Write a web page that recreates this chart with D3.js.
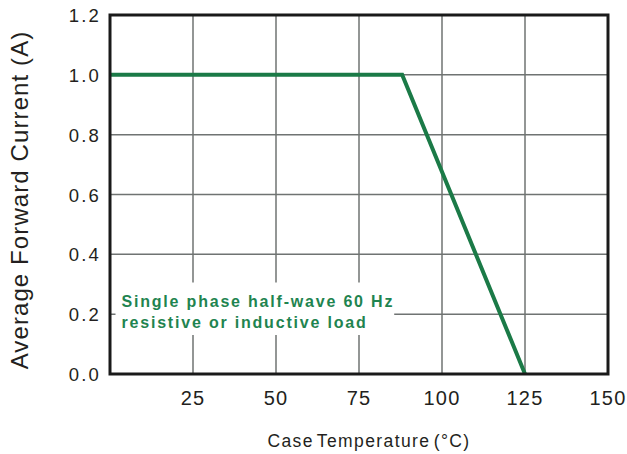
<!DOCTYPE html>
<html>
<head>
<meta charset="utf-8">
<script src="https://cdn.jsdelivr.net/npm/d3@7"></script>
<style>
  body { margin: 0; background: #fff; }
  text { font-family: "Liberation Sans", Arial, sans-serif; }
</style>
</head>
<body>
<div id="chart"></div>
<script>
// Derating curve data
const tempPoints = [0, 88, 125];
const currentPoints = [1.0, 1.0, 0.0];
const xTicks = [25, 50, 75, 100, 125, 150];
const yTicks = [0.0, 0.2, 0.4, 0.6, 0.8, 1.0, 1.2];
const noteLines = ['Single phase half-wave 60 Hz', 'resistive or inductive load'];

const width = 627, height = 454;
const margin = { top: 15, right: 19, bottom: 80, left: 110 };
const innerW = width - margin.left - margin.right;
const innerH = height - margin.top - margin.bottom;

const svg = d3.select('#chart').append('svg')
    .attr('width', width)
    .attr('height', height);

const x = d3.scaleLinear().domain([0, 150]).range([margin.left, margin.left + innerW]);
const y = d3.scaleLinear().domain([0, 1.2]).range([margin.top + innerH, margin.top]);

const grid = svg.append('g');

// vertical grid lines
grid.selectAll('.vgrid')
    .data(xTicks.filter(d => d > 0 && d < 150))
    .enter().append('line')
    .attr('x1', d => x(d)).attr('x2', d => x(d))
    .attr('y1', y(0)).attr('y2', y(1.2))
    .attr('stroke', '#6f7372').attr('stroke-width', 1.5);

// horizontal grid lines
grid.selectAll('.hgrid')
    .data(yTicks.filter(d => d > 0 && d < 1.2))
    .enter().append('line')
    .attr('x1', x(0)).attr('x2', x(150))
    .attr('y1', d => y(d)).attr('y2', d => y(d))
    .attr('stroke', '#6f7372').attr('stroke-width', 1.5);

// note box (white) behind the annotation, sized after the text
const noteBg = svg.append('rect').attr('fill', '#fff');
const noteG = svg.append('g');

// data line
const line = d3.line()
    .x((d, i) => x(tempPoints[i]))
    .y((d, i) => y(currentPoints[i]));

svg.append('path')
    .datum(tempPoints)
    .attr('d', line)
    .attr('fill', 'none')
    .attr('stroke', '#1b7a47')
    .attr('stroke-width', 4)
    .attr('stroke-linejoin', 'miter');

// border
svg.append('rect')
    .attr('x', x(0)).attr('y', y(1.2))
    .attr('width', innerW).attr('height', innerH)
    .attr('fill', 'none')
    .attr('stroke', '#1a1a1a')
    .attr('stroke-width', 3);

// tick labels
svg.selectAll('.xlab')
    .data(xTicks)
    .enter().append('text')
    .attr('x', d => x(d))
    .attr('y', y(0) + 31)
    .attr('text-anchor', 'middle')
    .attr('font-size', 20)
    .attr('letter-spacing', 1.2)
    .attr('fill', '#231f20')
    .text(d => d);

svg.selectAll('.ylab')
    .data(yTicks)
    .enter().append('text')
    .attr('x', x(0) - 9)
    .attr('y', d => y(d) + 7)
    .attr('text-anchor', 'end')
    .attr('font-size', 18.5)
    .attr('letter-spacing', 2.2)
    .attr('fill', '#231f20')
    .text(d => d.toFixed(1));

// axis titles
svg.append('text')
    .attr('x', 369)
    .attr('y', 447)
    .attr('text-anchor', 'middle')
    .attr('font-size', 17.5)
    .attr('letter-spacing', 1.4)
    .attr('word-spacing', -3)
    .attr('fill', '#231f20')
    .text('Case Temperature (°C)');

svg.append('text')
    .attr('transform', 'translate(28, 200) rotate(-90)')
    .attr('text-anchor', 'middle')
    .attr('font-size', 24)
    .attr('letter-spacing', 1.1)
    .attr('fill', '#231f20')
    .text('Average Forward Current (A)');

// note text
noteG.selectAll('.note')
    .data(noteLines)
    .enter().append('text')
    .attr('x', 121.5)
    .attr('y', (d, i) => 306.5 + i * 21.5)
    .attr('font-size', 16)
    .attr('font-weight', 'bold')
    .attr('letter-spacing', 1.8)
    .attr('fill', '#1f8450')
    .text(d => d);

const bb = noteG.node().getBBox();
noteBg
    .attr('x', bb.x - 6)
    .attr('y', bb.y - 10)
    .attr('width', bb.width + 6)
    .attr('height', bb.height + 14);
</script>
</body>
</html>
